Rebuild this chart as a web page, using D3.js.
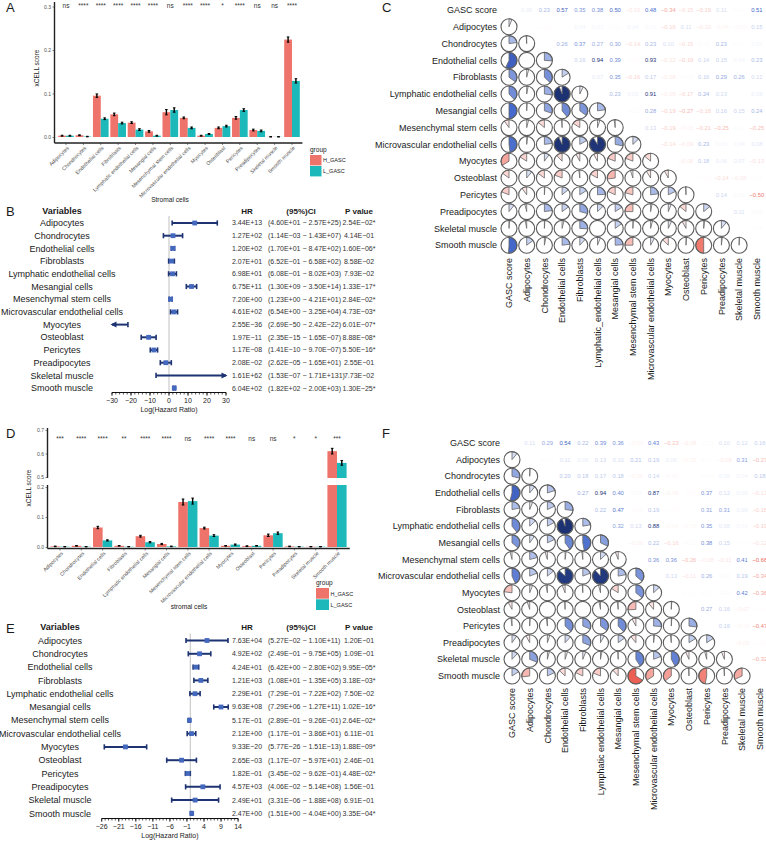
<!DOCTYPE html>
<html><head><meta charset="utf-8">
<script src="https://cdn.jsdelivr.net/npm/d3@7"></script>
<style>body{margin:0;background:#fff} svg{font-family:"Liberation Sans",Arial,Helvetica,sans-serif}</style>
</head><body>
<svg id="fig" width="766" height="843"></svg>
<script>
// ---------------- DATA ----------------
const cellTypes = ["Adipocytes","Chondrocytes","Endothelial cells","Fibroblasts","Lymphatic endothelial cells","Mesangial cells","Mesenchymal stem cells","Microvascular endothelial cells","Myocytes","Osteoblast","Pericytes","Preadipocytes","Skeletal muscle","Smooth muscle"];
const groupNames = ["H_GASC","L_GASC"];
const groupColors = ["#EE736A","#1DB8B9"];

// Panel A (xCELL scores, dataset 1)
const scoreA_H = [0.003,0.004,0.095,0.052,0.033,0.013,0.057,0.044,0.003,0.021,0.044,0.016,0.0004,0.224];
const scoreA_L = [0.003,0.001,0.042,0.032,0.017,0.003,0.062,0.021,0.007,0.025,0.062,0.014,0.0004,0.129];
const errA_H = [0.001,0.001,0.004,0.003,0.002,0.002,0.006,0.002,0.001,0.002,0.003,0.002,0.0005,0.006];
const errA_L = [0.001,0.0006,0.002,0.002,0.002,0.001,0.005,0.002,0.001,0.002,0.003,0.002,0.0005,0.005];
const sigA = ["ns","****","****","****","****","****","ns","****","****","*","****","ns","ns","****"];
const ticksA = [0,0.1,0.2,0.3];

// Panel D (xCELL scores, dataset 2)
const scoreD_H = [0.002,0.004,0.065,0.004,0.036,0.010,0.150,0.063,0.004,0.003,0.039,0.002,0.001,0.61];
const scoreD_L = [0.001,0.001,0.022,0.001,0.016,0.002,0.153,0.038,0.008,0.004,0.046,0.001,0.001,0.56];
const errD_H = [0.001,0.001,0.004,0.001,0.003,0.002,0.010,0.003,0.001,0.001,0.004,0.001,0.0005,0.012];
const errD_L = [0.0005,0.0005,0.002,0.0005,0.002,0.001,0.010,0.003,0.002,0.001,0.004,0.0005,0.0005,0.010];
const sigD = ["***","****","****","**","****","****","ns","****","****","ns","ns","*","*","***"];
const ticksD_low = [0,0.1,0.2];
const ticksD_high = [0.5,0.6,0.7];

// Panel B (Cox regression, dataset 1)
const hrB = ["3.44E+13","1.27E+02","1.20E+02","2.07E+01","6.98E+01","6.75E+11","7.20E+00","4.61E+02","2.55E-36","1.97E-11","1.17E-08","2.08E-02","1.61E+62","6.04E+02"];
const loB = ["4.60E+01","1.14E-03","1.70E+01","6.52E-01","6.08E-01","1.30E+09","1.23E+00","6.54E+00","2.69E-50","2.35E-15","1.41E-10","2.62E-05","1.53E-07","1.82E+02"];
const hiB = ["2.57E+25","1.43E+07","8.47E+02","6.58E+02","8.02E+03","3.50E+14","4.21E+01","3.25E+04","2.42E-22","1.65E-07","9.70E-07","1.65E+01","1.71E+131","2.00E+03"];
const pB = ["2.54E-02*","4.14E-01","1.60E-06*","8.58E-02","7.93E-02","1.33E-17*","2.84E-02*","4.73E-03*","6.01E-07*","8.88E-08*","5.50E-16*","2.55E-01","7.73E-02","1.30E-25*"];
const axisB = [-30,-20,-10,0,10,20,30];

// Panel E (Cox regression, dataset 2)
const hrE = ["7.63E+04","4.92E+02","4.24E+01","1.21E+03","2.29E+01","9.63E+08","5.17E-01","2.12E+00","9.33E-20","2.65E-03","1.82E-01","4.57E+03","2.49E+01","2.47E+00"];
const loE = ["5.27E-02","2.49E-01","6.42E+00","1.08E+01","7.29E-01","7.29E+06","2.89E-01","1.17E-01","5.77E-26","1.17E-07","3.45E-02","4.06E-02","3.31E-06","1.51E+00"];
const hiE = ["1.10E+11","9.75E+05","2.80E+02","1.35E+05","7.22E+02","1.27E+11","9.26E-01","3.86E+01","1.51E-13","5.97E+01","9.62E-01","5.14E+08","1.88E+08","4.04E+00"];
const pE = ["1.20E-01","1.09E-01","9.95E-05*","3.18E-03*","7.50E-02","1.02E-16*","2.64E-02*","6.11E-01","1.88E-09*","2.46E-01","4.48E-02*","1.56E-01","6.91E-01","3.35E-04*"];
const axisE = [-26,-21,-16,-11,-6,-1,4,9,14];

// Correlation matrices (upper triangle, row i, columns i+1..14)
const corrVars = ["GASC score"].concat(cellTypes);
const colLabelsC = ["GASC score","Adipocytes","Chondrocytes","Endothelial cells","Fibroblasts","Lymphatic_endothelial cells","Mesangial cells","Mesenchymal stem cells","Microvascular endothelial cells","Myocytes","Osteoblast","Pericytes","Preadipocytes","Skeletal muscle","Smooth muscle"];
const colLabelsF = corrVars;
const corrC = [
 [0.06,0.23,0.57,0.35,0.38,0.50,-0.10,0.48,-0.34,-0.15,-0.19,0.11,0.01,0.51],
 [-0.01,0.00,0.04,0.03,0.01,0.04,0.02,-0.16,0.11,-0.10,-0.04,-0.03,0.15],
 [0.26,0.37,0.27,0.30,-0.14,0.23,0.10,-0.15,0.01,0.23,0.01,0.03],
 [0.16,0.94,0.39,-0.01,0.93,-0.12,-0.19,0.14,0.15,0.04,0.23],
 [0.07,0.35,-0.16,0.17,-0.08,-0.02,0.16,0.29,0.26,0.12],
 [0.23,0.05,0.91,-0.08,-0.17,0.24,0.13,0.00,0.06],
 [-0.02,0.28,-0.19,-0.27,-0.18,0.16,0.15,0.24],
 [0.13,-0.19,-0.05,-0.21,-0.25,0.01,-0.25],
 [-0.14,-0.09,0.23,0.03,0.04,0.08],
 [-0.08,0.18,0.06,0.07,-0.13],
 [-0.01,-0.14,-0.08,0.01],
 [0.14,0.02,-0.50],
 [0.11,0.02],
 [0.01]
];
const corrF = [
 [0.11,0.29,0.54,0.22,0.39,0.36,-0.04,0.43,-0.23,-0.08,-0.02,0.10,0.12,0.16],
 [0.01,0.11,0.06,0.13,0.10,0.21,0.19,0.06,-0.05,0.01,-0.08,0.31,-0.27],
 [0.20,0.18,0.17,0.18,-0.05,0.14,-0.03,0.00,-0.02,0.05,0.04,0.18],
 [0.27,0.94,0.40,0.02,0.87,-0.06,-0.01,0.37,0.12,0.05,-0.13],
 [0.22,0.47,-0.02,0.19,-0.01,0.00,0.31,0.31,0.06,-0.18],
 [0.32,0.13,0.88,-0.04,-0.03,0.35,0.08,0.03,-0.19],
 [-0.06,0.22,-0.16,-0.02,0.38,0.15,-0.01,-0.12],
 [0.36,0.36,-0.26,-0.08,-0.11,0.41,-0.66],
 [0.13,-0.11,0.26,0.02,0.19,-0.34],
 [0.01,0.01,-0.02,0.42,-0.36],
 [0.27,0.16,-0.07,-0.01],
 [0.16,-0.04,-0.47],
 [-0.06,-0.01],
 [-0.32]
];

// ---------------- DRAWING ----------------
const svg = d3.select("#fig");
const TXT = "#1a1a1a", GREY = "#4d4d4d";

function label(s, x, y){
  svg.append("text").attr("x",x).attr("y",y).attr("font-size",13).attr("fill",TXT).text(s);
}
label("A",6,12); label("B",6,216); label("C",382,12);
label("D",6,438); label("E",6,633); label("F",382,438);

function errorbar(g, cx, y1, y2){
  g.append("line").attr("x1",cx).attr("x2",cx).attr("y1",y1).attr("y2",y2).attr("stroke","#000").attr("stroke-width",1.4);
  [y1,y2].forEach(yy=>g.append("line").attr("x1",cx-1.3).attr("x2",cx+1.3).attr("y1",yy).attr("y2",yy).attr("stroke","#000").attr("stroke-width",1));
}

function xAxisCats(g, x, left, right, axisY, fs){
  g.append("line").attr("x1",left).attr("x2",right).attr("y1",axisY).attr("y2",axisY).attr("stroke","#222").attr("stroke-width",1.4);
  cellTypes.forEach(c=>{
    g.append("line").attr("x1",x(c)).attr("x2",x(c)).attr("y1",axisY).attr("y2",axisY+2).attr("stroke","#333").attr("stroke-width",0.6);
    g.append("text").attr("transform",`translate(${x(c)+2},${axisY+4}) rotate(-45)`)
      .attr("text-anchor","end").attr("dy","0.35em").attr("font-size",fs).attr("fill",GREY).text(c);
  });
}
function yTicks(g, y, left, vals, fs){
  g.append("g").attr("transform",`translate(${left},0)`)
   .call(d3.axisLeft(y).tickValues(vals).tickFormat(d3.format(".1f")).tickSize(2).tickPadding(1.5))
   .call(s=>{s.select(".domain").remove();
     s.selectAll("text").attr("font-size",fs).attr("fill",GREY).attr("font-family",null);
     s.selectAll("line").attr("stroke","#333").attr("stroke-width",0.6);});
}
function legend(g, x, y, boxW, boxH, fs){
  g.append("text").attr("x",x).attr("y",y).attr("font-size",fs+1).attr("fill",TXT).text("group");
  groupNames.forEach((n,k)=>{
    g.append("rect").attr("x",x).attr("y",y+3+k*boxH).attr("width",boxW).attr("height",boxH-0.6).attr("fill",groupColors[k]);
    g.append("text").attr("x",x+boxW+1.5).attr("y",y+3+k*boxH+boxH/2).attr("dy","0.35em").attr("font-size",fs).attr("fill",TXT).text(n);
  });
}

// ---- Panel A ----
{
  const g = svg.append("g");
  const x = d3.scalePoint().domain(cellTypes).range([66,292]);
  const step = x.step();
  const xg = d3.scaleBand().domain(groupNames).range([-0.45*step,0.45*step]);
  const y = d3.scaleLinear().domain([0,0.3]).range([137,6.5]);
  const left = 54.5, right = x(cellTypes[13])+0.6*step, axisY = 143;
  const vals = [[scoreA_H,errA_H],[scoreA_L,errA_L]];
  cellTypes.forEach((c,i)=>{
    vals.forEach(([v,e],k)=>{
      const bx = x(c)+xg(groupNames[k]);
      g.append("rect").attr("x",bx).attr("y",y(v[i])).attr("width",xg.bandwidth()).attr("height",y(0)-y(v[i])).attr("fill",groupColors[k]);
    });
    vals.forEach(([v,e],k)=>{
      const bx = x(c)+xg(groupNames[k]);
      errorbar(g, bx+xg.bandwidth()/2, y(Math.max(0,v[i]-e[i])), y(v[i]+e[i]));
    });
    g.append("text").attr("x",x(c)).attr("y",8).attr("text-anchor","middle").attr("font-size",6.5).attr("fill","#333").text(sigA[i]);
  });
  g.append("line").attr("x1",left).attr("x2",left).attr("y1",2).attr("y2",axisY).attr("stroke","#222").attr("stroke-width",1.4);
  yTicks(g,y,left,ticksA,5);
  xAxisCats(g,x,left,right,axisY,5.2);
  g.append("text").attr("transform","translate(39,68) rotate(-90)").attr("text-anchor","middle").attr("font-size",6.5).attr("fill",TXT).text("xCELL score");
  g.append("text").attr("x",170).attr("y",202).attr("text-anchor","middle").attr("font-size",6.6).attr("fill",TXT).text("Stromal cells");
  legend(g,310,152,11.5,11,5.5);
}

// ---- Panel D (broken axis) ----
{
  const g = svg.append("g");
  const x = d3.scalePoint().domain(cellTypes).range([60,337]);
  const step = x.step();
  const xg = d3.scaleBand().domain(groupNames).range([-0.45*step,0.45*step]);
  const yLow = d3.scaleLinear().domain([0,0.2]).range([547,487]);
  const yHigh = d3.scaleLinear().domain([0.5,0.7]).range([477,430]);
  const lowTop = 485, highBottom = 478, highTop = 428;
  const left = 47.5, right = x(cellTypes[13])+0.6*step, axisY = 548.5;
  const vals = [[scoreD_H,errD_H],[scoreD_L,errD_L]];
  cellTypes.forEach((c,i)=>{
    vals.forEach(([v,e],k)=>{
      const bx = x(c)+xg(groupNames[k]), w = xg.bandwidth();
      const val = v[i];
      if (val <= 0.2){
        g.append("rect").attr("x",bx).attr("y",yLow(val)).attr("width",w).attr("height",yLow(0)-yLow(val)).attr("fill",groupColors[k]);
      } else {
        g.append("rect").attr("x",bx).attr("y",lowTop).attr("width",w).attr("height",yLow(0)-lowTop).attr("fill",groupColors[k]);
        g.append("rect").attr("x",bx).attr("y",yHigh(val)).attr("width",w).attr("height",highBottom-yHigh(val)).attr("fill",groupColors[k]);
      }
    });
    vals.forEach(([v,e],k)=>{
      const bx = x(c)+xg(groupNames[k])+xg.bandwidth()/2, val=v[i];
      const ys = val<=0.2 ? yLow : yHigh;
      errorbar(g,bx,ys(Math.max(0,val-e[i])),ys(val+e[i]));
    });
    g.append("text").attr("x",x(c)).attr("y",441).attr("text-anchor","middle").attr("font-size",6.5).attr("fill","#333").text(sigD[i]);
  });
  g.append("line").attr("x1",left).attr("x2",left).attr("y1",lowTop).attr("y2",axisY).attr("stroke","#222").attr("stroke-width",1.4);
  g.append("line").attr("x1",left).attr("x2",left).attr("y1",highTop).attr("y2",highBottom).attr("stroke","#222").attr("stroke-width",1.4);
  yTicks(g,yLow,left,ticksD_low,5);
  yTicks(g,yHigh,left,ticksD_high,5);
  xAxisCats(g,x,left,right,axisY,5.2);
  g.append("text").attr("transform","translate(31,488) rotate(-90)").attr("text-anchor","middle").attr("font-size",6.5).attr("fill",TXT).text("xCELL score");
  g.append("text").attr("x",189).attr("y",609).attr("text-anchor","middle").attr("font-size",6.6).attr("fill",TXT).text("stromal cells");
  legend(g,316,585,13,11.3,5.5);
}

// ---- Forest plots ----
const fmt = s => s.replace(/-/g,"\u2212");
function forest(cfg){
  const {hr,lo,hi,p,x,rowY0,rowStep,headerY,axisY,ticks,minorStep,labelX} = cfg;
  const g = svg.append("g");
  const navy = "#1d3372", pt = "#4468bd";
  g.append("text").attr("x",labelX).attr("y",headerY+3.2).attr("text-anchor","middle").attr("font-weight","bold").attr("font-size",9).attr("fill",TXT).text("Variables");
  g.append("text").attr("x",247).attr("y",headerY+3).attr("text-anchor","middle").attr("font-weight","bold").attr("font-size",8).attr("fill",TXT).text("HR");
  g.append("text").attr("x",301).attr("y",headerY+3).attr("text-anchor","middle").attr("font-weight","bold").attr("font-size",8).attr("fill",TXT).text("(95%)CI");
  g.append("text").attr("x",359).attr("y",headerY+3).attr("text-anchor","middle").attr("font-weight","bold").attr("font-size",8).attr("fill",TXT).text("P value");
  g.append("line").attr("x1",x(0)).attr("x2",x(0)).attr("y1",rowY0-7).attr("y2",axisY).attr("stroke","#cfcfcf").attr("stroke-width",1.3);
  const [d0,d1] = x.domain();
  cellTypes.forEach((c,i)=>{
    const yy = rowY0+i*rowStep;
    g.append("text").attr("x",labelX).attr("y",yy).attr("dy","0.35em").attr("text-anchor","middle").attr("font-size",9).attr("fill",TXT).text(c);
    g.append("text").attr("x",247).attr("y",yy).attr("dy","0.35em").attr("text-anchor","middle").attr("font-size",7).attr("fill","#333").text(fmt(hr[i]));
    g.append("text").attr("x",268).attr("y",yy).attr("dy","0.35em").attr("font-size",7).attr("fill","#333").text(fmt(`(${lo[i]} - ${hi[i]})`));
    g.append("text").attr("x",359).attr("y",yy).attr("dy","0.35em").attr("text-anchor","middle").attr("font-size",7).attr("fill","#333").text(fmt(p[i]));
    const lv = Math.log10(+lo[i]), hv = Math.log10(+hi[i]), pv = Math.log10(+hr[i]);
    const a = Math.max(lv,d0), b = Math.min(hv,d1);
    g.append("line").attr("x1",x(a)).attr("x2",x(b)).attr("y1",yy).attr("y2",yy).attr("stroke",navy).attr("stroke-width",2);
    [[lv<d0,a,-1],[hv>d1,b,1]].forEach(([clip,v,dir])=>{
      const xx = x(v);
      if (clip){
        g.append("path").attr("d",`M${xx+dir*1.5},${yy} L${xx-dir*4.5},${yy-3} L${xx-dir*4.5},${yy+3} Z`).attr("fill",navy);
      } else {
        g.append("line").attr("x1",xx).attr("x2",xx).attr("y1",yy-2.6).attr("y2",yy+2.6).attr("stroke",navy).attr("stroke-width",1.6);
      }
    });
    if (pv>=d0 && pv<=d1){
      g.append("rect").attr("x",x(pv)-2.4).attr("y",yy-2.4).attr("width",4.8).attr("height",4.8).attr("fill",pt);
    }
  });
  // axis
  g.append("line").attr("x1",x(d0)).attr("x2",x(d1)).attr("y1",axisY).attr("y2",axisY).attr("stroke","#111").attr("stroke-width",1);
  d3.range(d0,d1+0.001,minorStep).forEach(v=>{
    g.append("line").attr("x1",x(v)).attr("x2",x(v)).attr("y1",axisY).attr("y2",axisY+2).attr("stroke","#111").attr("stroke-width",0.7);
  });
  ticks.forEach(v=>{
    g.append("line").attr("x1",x(v)).attr("x2",x(v)).attr("y1",axisY).attr("y2",axisY+3.2).attr("stroke","#111").attr("stroke-width",0.9);
    g.append("text").attr("x",x(v)).attr("y",axisY+10.5).attr("text-anchor","middle").attr("font-size",7).attr("fill","#222").text(d3.format("")(v).replace("-","\u2212"));
  });
  g.append("text").attr("x",(x(d0)+x(d1))/2).attr("y",axisY+19.5).attr("text-anchor","middle").attr("font-size",7).attr("fill","#222").text("Log(Hazard Ratio)");
}
forest({hr:hrB,lo:loB,hi:hiB,p:pB,x:d3.scaleLinear().domain([-30,30]).range([112,226]),
  rowY0:223,rowStep:12.7,headerY:211,axisY:392.5,ticks:axisB,minorStep:2,labelX:62});
forest({hr:hrE,lo:loE,hi:hiE,p:pE,x:d3.scaleLinear().domain([-26,14]).range([101.7,238.1]),
  rowY0:640.5,rowStep:13.3,headerY:627,axisY:818.5,ticks:axisE,minorStep:1,labelX:60});

// ---- Correlation panels ----
const corrColor = d3.scaleLinear().domain([-1,-0.5,0,0.5,1])
  .range(["#e3261b","#f07a6e","#ffffff","#4569cc","#172a66"]).clamp(true);
function corrPanel(cfg){
  const {upper,colLabels,rowY0,rowStep,colX0,colStep,labelTop} = cfg;
  const n = corrVars.length;
  const M = d3.range(n).map(()=>new Array(n).fill(1));
  upper.forEach((row,i)=>row.forEach((v,k)=>{const j=i+1+k; M[i][j]=v; M[j][i]=v;}));
  const yS = d3.scalePoint().domain(d3.range(n)).range([rowY0,rowY0+(n-1)*rowStep]);
  const xS = d3.scalePoint().domain(d3.range(n)).range([colX0,colX0+(n-1)*colStep]);
  const g = svg.append("g");
  const R = 8;
  const arc = d3.arc().innerRadius(0).outerRadius(R);
  corrVars.forEach((v,i)=>{
    g.append("text").attr("x",colX0-12).attr("y",yS(i)).attr("dy","0.35em").attr("text-anchor","end").attr("font-size",9).attr("fill",TXT).text(v);
    g.append("text").attr("transform",`translate(${xS(i)},${labelTop}) rotate(-90)`).attr("dy","0.35em").attr("text-anchor","end").attr("font-size",9).attr("fill",TXT).text(colLabels[i]);
  });
  for (let i=0;i<n;i++) for (let j=0;j<n;j++){
    const r = M[i][j];
    if (j>i){
      g.append("text").attr("x",xS(j)).attr("y",yS(i)).attr("dy","0.35em").attr("text-anchor","middle").attr("font-size",5.8).attr("fill",corrColor(r)).text(d3.format(".2f")(r));
    } else if (j<i){
      const cg = g.append("g").attr("transform",`translate(${xS(j)},${yS(i)})`);
      cg.append("circle").attr("r",R).attr("fill","#fff");
      if (Math.abs(r) >= 0.005){
        cg.append("path").attr("d",arc({startAngle:0,endAngle:2*Math.PI*r})).attr("fill",corrColor(r)).attr("stroke","#666").attr("stroke-width",0.8);
      }
      cg.append("circle").attr("r",R).attr("fill","none").attr("stroke","#5c5c5c").attr("stroke-width",1.1);
    }
  }
}
corrPanel({upper:corrC,colLabels:colLabelsC,rowY0:10,rowStep:16.8,colX0:509,colStep:17.7,labelTop:258});
corrPanel({upper:corrF,colLabels:colLabelsF,rowY0:443,rowStep:16.64,colX0:512,colStep:17.7,labelTop:688});
</script>
</body></html>
